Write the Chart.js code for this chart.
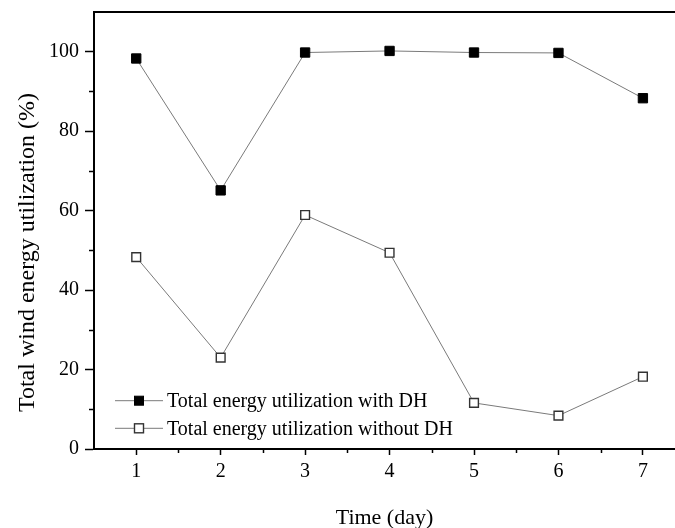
<!DOCTYPE html>
<html><head><meta charset="utf-8">
<script src="https://cdn.jsdelivr.net/npm/chart.js@4.4.0/dist/chart.umd.min.js"></script>
<style>html,body{margin:0;padding:0;background:#fff}#wrap{width:675px;height:528px}</style>
</head><body><div id="wrap"><canvas id="c" width="675" height="528"></canvas></div>
<script>
const days = [1, 2, 3, 4, 5, 6, 7];
const withDH = [98.3, 65.1, 99.8, 100.2, 99.8, 99.7, 88.3];
const withoutDH = [48.3, 23.0, 58.9, 49.4, 11.6, 8.4, 18.2];
const seriesNames = ['Total energy utilization with DH', 'Total energy utilization without DH'];
const xTicks = [1, 2, 3, 4, 5, 6, 7];
const yTicks = [0, 20, 40, 60, 80, 100];
const xMinor = [1.5, 2.5, 3.5, 4.5, 5.5, 6.5];
const yMinor = [10, 30, 50, 70, 90];
const xTitle = 'Time (day)';
const yTitle = 'Total wind energy utilization (%)';

const FONT = '"Liberation Serif", "Times New Roman", serif';

const extras = {
  id: 'extras',
  afterDraw(chart) {
    const ctx = chart.ctx;
    const xs = chart.scales.x, ys = chart.scales.y;
    const a = chart.chartArea;
    ctx.save();
    ctx.strokeStyle = '#000';
    ctx.lineWidth = 2;
    ctx.beginPath();
    ctx.moveTo(a.left - 1, a.top);
    ctx.lineTo(a.right, a.top);
    ctx.stroke();
    ctx.lineWidth = 1.5;
    xMinor.forEach(v => {
      const px = Math.round(xs.getPixelForValue(v)) + 0.5;
      ctx.beginPath();
      ctx.moveTo(px, a.bottom);
      ctx.lineTo(px, a.bottom + 4);
      ctx.stroke();
    });
    yMinor.forEach(v => {
      const py = Math.round(ys.getPixelForValue(v)) + 0.5;
      ctx.beginPath();
      ctx.moveTo(a.left - 5, py);
      ctx.lineTo(a.left, py);
      ctx.stroke();
    });
    ctx.fillStyle = '#000';
    ctx.font = '24px ' + FONT;
    ctx.textAlign = 'center';
    ctx.textBaseline = 'middle';
    ctx.translate(27.5, 252.5);
    ctx.rotate(-Math.PI / 2);
    ctx.fillText(yTitle, 0, 0);
    ctx.restore();

    ctx.save();
    const rows = [400.7, 428.3];
    chart.data.datasets.forEach((ds, i) => {
      const y = rows[i];
      ctx.strokeStyle = ds.borderColor;
      ctx.lineWidth = ds.borderWidth;
      ctx.beginPath();
      ctx.moveTo(115, y);
      ctx.lineTo(163, y);
      ctx.stroke();
      ctx.fillStyle = ds.pointBackgroundColor;
      ctx.strokeStyle = ds.pointBorderColor;
      ctx.lineWidth = ds.pointBorderWidth;
      ctx.fillRect(134.5, y - 4.5, 9, 9);
      ctx.strokeRect(134.5, y - 4.5, 9, 9);
      ctx.fillStyle = '#000';
      ctx.font = '20px ' + FONT;
      ctx.textAlign = 'left';
      ctx.textBaseline = 'middle';
      ctx.fillText(ds.label, 167, y + 1);
    });
    ctx.restore();
  }
};

new Chart(document.getElementById('c'), {
  type: 'line',
  data: {
    datasets: [
      {
        label: seriesNames[0],
        data: days.map((d, i) => ({ x: d, y: withDH[i] })),
        borderColor: '#7a7a7a', borderWidth: 1,
        pointStyle: 'rect', pointRadius: 6.6,
        pointBackgroundColor: '#000', pointBorderColor: '#000', pointBorderWidth: 1,
        tension: 0
      },
      {
        label: seriesNames[1],
        data: days.map((d, i) => ({ x: d, y: withoutDH[i] })),
        borderColor: '#7a7a7a', borderWidth: 1,
        pointStyle: 'rect', pointRadius: 6.2,
        pointBackgroundColor: '#fff', pointBorderColor: '#333', pointBorderWidth: 1.4,
        tension: 0
      }
    ]
  },
  options: {
    responsive: false,
    devicePixelRatio: 1,
    animation: false,
    layout: { autoPadding: false, padding: { top: 12, right: 0, left: 0, bottom: 0 } },
    plugins: { legend: { display: false }, tooltip: { enabled: false } },
    scales: {
      x: {
        type: 'linear', min: 0.5, max: 7.38,
        afterBuildTicks: s => { s.ticks = xTicks.map(v => ({ value: v })); },
        afterFit: s => { s.height = 79; s.paddingLeft = 0; s.paddingRight = 0; },
        grid: { drawOnChartArea: false, drawTicks: true, tickLength: 6, tickWidth: 1.5, tickColor: '#000' },
        border: { display: true, color: '#000', width: 2 },
        ticks: { color: '#000', font: { family: FONT, size: 20 }, padding: 5, maxRotation: 0, autoSkip: false },
        title: { display: true, text: xTitle, color: '#000', font: { family: FONT, size: 22 }, padding: { top: 0, bottom: -3 } }
      },
      y: {
        type: 'linear', min: 0, max: 110,
        afterBuildTicks: s => { s.ticks = yTicks.map(v => ({ value: v })); },
        afterFit: s => { s.width = 94; s.paddingTop = 0; s.paddingBottom = 0; },
        grid: { drawOnChartArea: false, drawTicks: true, tickLength: 9, tickWidth: 1.5, tickColor: '#000' },
        border: { display: true, color: '#000', width: 2 },
        ticks: { color: '#000', font: { family: FONT, size: 20 }, padding: 6 }
      }
    }
  },
  plugins: [extras]
});
</script>
</body></html>
